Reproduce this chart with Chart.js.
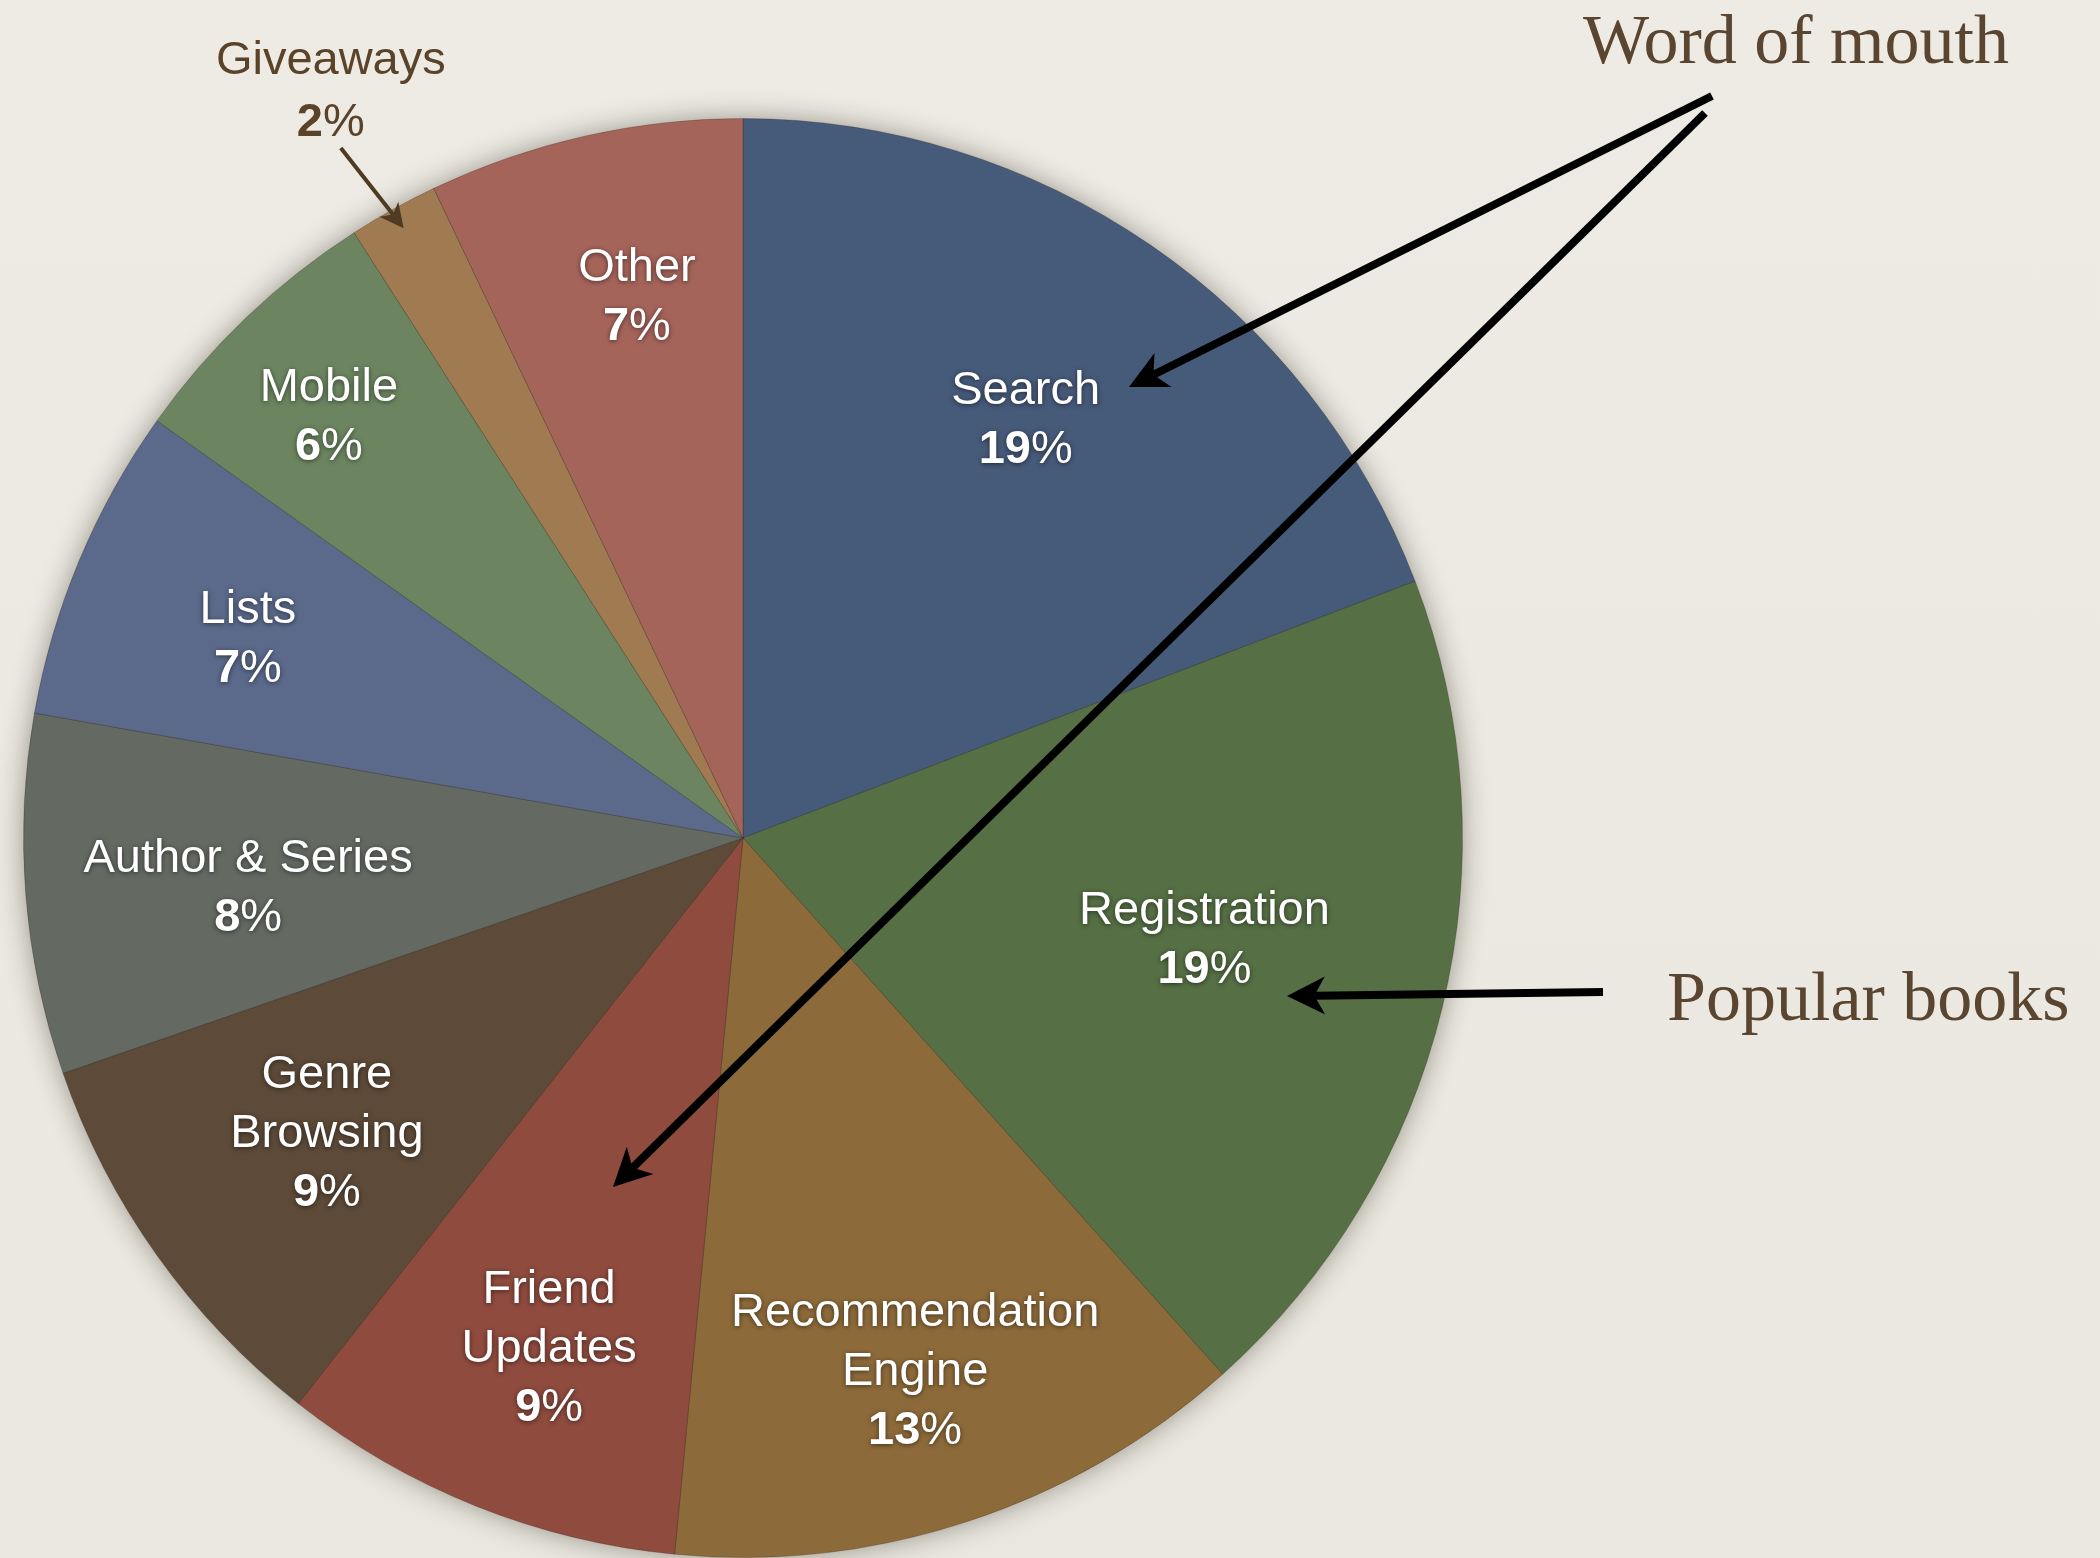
<!DOCTYPE html>
<html>
<head>
<meta charset="utf-8">
<title>Where new members come from</title>
<script src="https://cdn.jsdelivr.net/npm/chart.js@4"></script>
<style>
  html, body { margin: 0; padding: 0; background: #ebe9e1; }
  #wrap { width: 2100px; height: 1558px; position: relative; overflow: hidden;
    background: linear-gradient(180deg, #edebe4 0%, #e9e7df 100%); }
</style>
</head>
<body>
<div id="wrap"><canvas id="pie" width="2100" height="1558"></canvas></div>
<script>
const categories = ['Search', 'Registration', ['Recommendation', 'Engine'], ['Friend', 'Updates'],
  ['Genre', 'Browsing'], 'Author & Series', 'Lists', 'Mobile', 'Giveaways', 'Other'];
const shares = [19, 19, 13, 9, 9, 8, 7, 6, 2, 7];
const sliceColors = ['#465a79', '#566f44', '#8d6a3a', '#8f4b3e', '#5d4a38',
  '#646962', '#5b6a8b', '#6c8560', '#a07b51', '#a5645a'];

const SANS = "'Liberation Sans', Arial, Helvetica, sans-serif";
const SERIF = "'Liberation Serif', 'Times New Roman', serif";
const BROWN = '#5a4630';
const FONT_PX = 47;

function arrow(ctx, x1, y1, x2, y2, color, width, headLen, headHalf) {
  const a = Math.atan2(y2 - y1, x2 - x1);
  const cos = Math.cos(a), sin = Math.sin(a);
  const notch = headLen * 0.72;
  ctx.save();
  ctx.strokeStyle = color;
  ctx.fillStyle = color;
  ctx.lineWidth = width;
  ctx.lineCap = 'butt';
  ctx.beginPath();
  ctx.moveTo(x1, y1);
  ctx.lineTo(x2 - cos * notch, y2 - sin * notch);
  ctx.stroke();
  ctx.beginPath();
  ctx.moveTo(x2, y2);
  ctx.lineTo(x2 - cos * headLen - sin * headHalf, y2 - sin * headLen + cos * headHalf);
  ctx.lineTo(x2 - cos * notch, y2 - sin * notch);
  ctx.lineTo(x2 - cos * headLen + sin * headHalf, y2 - sin * headLen - cos * headHalf);
  ctx.closePath();
  ctx.fill();
  ctx.restore();
}

// percent line: bold number, regular % sign
function drawPercent(ctx, value, cx, y, color) {
  const num = String(value);
  ctx.font = 'bold ' + FONT_PX + 'px ' + SANS;
  const wNum = ctx.measureText(num).width;
  ctx.font = FONT_PX + 'px ' + SANS;
  const wPct = ctx.measureText('%').width;
  const x0 = cx - (wNum + wPct) / 2;
  ctx.fillStyle = color;
  ctx.textAlign = 'left';
  ctx.font = 'bold ' + FONT_PX + 'px ' + SANS;
  ctx.fillText(num, x0, y);
  ctx.font = FONT_PX + 'px ' + SANS;
  ctx.fillText('%', x0 + wNum, y);
}

// soft shadow under the whole pie
const pieShadow = {
  id: 'pieShadow',
  beforeDatasetsDraw(chart) {
    const arc = chart.getDatasetMeta(0).data[0];
    if (!arc) return;
    const ctx = chart.ctx;
    ctx.save();
    ctx.shadowColor = 'rgba(40, 30, 20, 0.45)';
    ctx.shadowBlur = 28;
    ctx.fillStyle = '#777';
    ctx.beginPath();
    ctx.arc(arc.x, arc.y, arc.outerRadius - 1, 0, Math.PI * 2);
    ctx.fill();
    ctx.restore();
  }
};

// slice labels: name lines plus percentage
const sliceLabels = {
  id: 'sliceLabels',
  afterDatasetsDraw(chart, args, opts) {
    const ctx = chart.ctx;
    const meta = chart.getDatasetMeta(0);
    const lineH = 59;
    meta.data.forEach((arc, i) => {
      const mid = (arc.startAngle + arc.endAngle) / 2;
      const name = categories[i];
      const lines = Array.isArray(name) ? name : [name];
      ctx.save();
      ctx.textBaseline = 'middle';
      if (opts.outside[i]) {
        // label sits outside with a small pointer
        const tip = { x: arc.x + Math.cos(mid) * arc.outerRadius * 0.97, y: arc.y + Math.sin(mid) * arc.outerRadius * 0.97 };
        const start = { x: arc.x + Math.cos(mid - 0.02) * arc.outerRadius * 1.11, y: arc.y + Math.sin(mid - 0.02) * arc.outerRadius * 1.11 };
        arrow(ctx, start.x, start.y, tip.x, tip.y, '#4f3a22', 4, 24, 12);
        const cx = start.x - 10;
        ctx.textBaseline = 'alphabetic';
        ctx.fillStyle = '#5a4328';
        ctx.textAlign = 'center';
        ctx.font = FONT_PX + 'px ' + SANS;
        ctx.fillText(lines[0], cx, start.y - 74);
        drawPercent(ctx, shares[i], cx, start.y - 12, '#5a4328');
      } else {
        const f = opts.radius[i];
        const [dx, dy] = opts.shift[i];
        const cx = arc.x + Math.cos(mid) * arc.outerRadius * f + dx;
        const cy = arc.y + Math.sin(mid) * arc.outerRadius * f + dy;
        const n = lines.length + 1;
        ctx.shadowColor = 'rgba(0, 0, 0, 0.55)';
        ctx.shadowBlur = 5;
        ctx.shadowOffsetY = 1;
        ctx.fillStyle = '#ffffff';
        ctx.textAlign = 'center';
        ctx.font = FONT_PX + 'px ' + SANS;
        lines.forEach((t, k) => {
          ctx.fillText(t, cx, cy + (k - (n - 1) / 2) * lineH);
        });
        drawPercent(ctx, shares[i], cx, cy + (n - 1 - (n - 1) / 2) * lineH, '#ffffff');
      }
      ctx.restore();
    });
  }
};

// callouts on the right
const callouts = {
  id: 'callouts',
  afterDraw(chart) {
    const ctx = chart.ctx;
    ctx.save();
    ctx.fillStyle = BROWN;
    ctx.textAlign = 'left';
    ctx.textBaseline = 'alphabetic';
    ctx.font = '70px ' + SERIF;
    ctx.fillText('Word of mouth', 1583, 63);
    ctx.fillText('Popular books', 1667, 1020);
    ctx.restore();
    arrow(ctx, 1712, 96, 1129, 387, '#000', 8, 38, 19);
    arrow(ctx, 1705, 113, 613, 1187, '#000', 8, 38, 19);
    arrow(ctx, 1603, 992, 1287, 996, '#000', 8, 38, 19);
  }
};

new Chart(document.getElementById('pie'), {
  type: 'pie',
  data: {
    labels: categories,
    datasets: [{
      data: shares,
      backgroundColor: sliceColors,
      borderColor: 'rgba(40, 30, 20, 0.25)',
      borderWidth: 1
    }]
  },
  options: {
    responsive: false,
    animation: false,
    devicePixelRatio: 1,
    layout: { padding: { left: 23, right: 637, top: 118, bottom: 0 } },
    plugins: {
      legend: { display: false },
      tooltip: { enabled: false },
      sliceLabels: {
        radius: [0.71, 0.66, 0.78, 0.755, 0.71, 0.69, 0.74, 0.82, 0, 0.77],
        shift: [[-7, 3], [0, -9], [-3, 1], [8, 7], [0, 0], [0, 11], [-4, 7], [-7, 7], [0, 0], [16, 0]],
        outside: [false, false, false, false, false, false, false, false, true, false]
      }
    }
  },
  plugins: [pieShadow, sliceLabels, callouts]
});
</script>
</body>
</html>
